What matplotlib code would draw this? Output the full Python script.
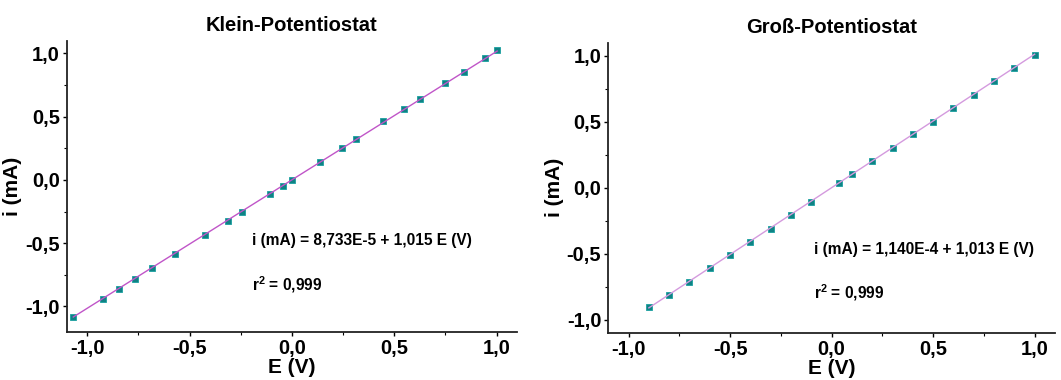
import numpy as np
import matplotlib.pyplot as plt
from matplotlib.ticker import MultipleLocator, FuncFormatter

# data
E_klein = [-1.068, -0.925, -0.844, -0.765, -0.682, -0.573, -0.424, -0.312, -0.245, -0.109, -0.044,
           0.0, 0.138, 0.244, 0.312, 0.445, 0.550, 0.628, 0.747, 0.841, 0.942, 1.003]
i_klein = [-1.082, -0.942, -0.865, -0.784, -0.694, -0.583, -0.433, -0.325, -0.253, -0.108, -0.050,
           -0.003, 0.140, 0.251, 0.322, 0.462, 0.562, 0.639, 0.763, 0.852, 0.963, 1.024]
E_gross = [-0.9, -0.8, -0.7, -0.6, -0.5, -0.4, -0.3, -0.2, -0.1, 0.036,
           0.1, 0.2, 0.3, 0.4, 0.5, 0.6, 0.7, 0.8, 0.9, 1.0]
i_gross = [-0.905, -0.815, -0.714, -0.610, -0.512, -0.409, -0.310, -0.209, -0.106, 0.035,
           0.101, 0.199, 0.303, 0.404, 0.502, 0.603, 0.704, 0.807, 0.905, 1.006]

fit_klein = (8.733e-5, 1.015)
fit_gross = (1.140e-4, 1.013)

titles = ['Klein-Potentiostat', 'Groß-Potentiostat']
eq_texts = ['i (mA) = 8,733E-5 + 1,015 E (V)', 'i (mA) = 1,140E-4 + 1,013 E (V)']

plt.rcParams['font.family'] = ['Liberation Sans', 'DejaVu Sans']
plt.rcParams['font.weight'] = 'bold'
plt.rcParams['mathtext.fontset'] = 'custom'
plt.rcParams['mathtext.bf'] = 'Liberation Sans:bold'

fig = plt.figure(figsize=(10.61, 3.8), dpi=100)
ax1 = fig.add_axes([0.0629, 0.1271, 0.4244, 0.7658])
ax2 = fig.add_axes([0.5733, 0.1245, 0.421, 0.763])

comma = FuncFormatter(lambda v, p: ('%.1f' % v).replace('.', ','))

setups = [
    (ax1, E_klein, i_klein, fit_klein, '#c055c8', (-1.2, 1.1), (-0.193, -0.483), (-0.193, -0.831)),
    (ax2, E_gross, i_gross, fit_gross, '#d49ade', (-1.1, 1.1), (-0.087, -0.471), (-0.087, -0.799)),
]

for k, (ax, E, I, fit, lc, ylim, eqpos, rpos) in enumerate(setups):
    E = np.array(E)
    ax.plot(E, I, 's', color='#0f8284', markersize=4.5, markeredgecolor='#1aa0a0',
            markeredgewidth=0.6, zorder=2)
    xs = np.array([E.min(), E.max()])
    ax.plot(xs, fit[0] + fit[1] * xs, '-', color=lc, lw=1.0, zorder=3)
    ax.set_xlim(-1.1, 1.1)
    ax.set_ylim(*ylim)
    ax.spines['top'].set_visible(False)
    ax.spines['right'].set_visible(False)
    ax.spines['left'].set_linewidth(1.3)
    ax.spines['bottom'].set_linewidth(1.3)
    ax.spines['left'].set_color('#222222')
    ax.spines['bottom'].set_color('#222222')
    ax.xaxis.set_major_locator(MultipleLocator(0.5))
    ax.xaxis.set_minor_locator(MultipleLocator(0.25))
    ax.yaxis.set_major_locator(MultipleLocator(0.5))
    ax.yaxis.set_minor_locator(MultipleLocator(0.25))
    ax.xaxis.set_major_formatter(comma)
    ax.yaxis.set_major_formatter(comma)
    ax.tick_params(which='major', direction='out', length=3, width=1, labelsize=14.5, pad=2)
    ax.tick_params(which='minor', direction='out', length=2, width=0.8)
    for lab in ax.get_xticklabels() + ax.get_yticklabels():
        lab.set_fontweight('bold')
    ax.set_xlabel('E (V)', fontsize=15, fontweight='bold', labelpad=0)
    ax.set_ylabel('i (mA)', fontsize=15, fontweight='bold', labelpad=2)
    ax.set_title(titles[k], fontsize=14.5, fontweight='bold', pad=7)
    ax.text(eqpos[0], eqpos[1], eq_texts[k], fontsize=11.2, fontweight='bold', va='center', ha='left')
    ax.text(rpos[0], rpos[1], r'r$^{\mathbf{2}}$ = 0,999', fontsize=11.2, fontweight='bold',
            va='center', ha='left')

fig.savefig('out.png', dpi=100)
